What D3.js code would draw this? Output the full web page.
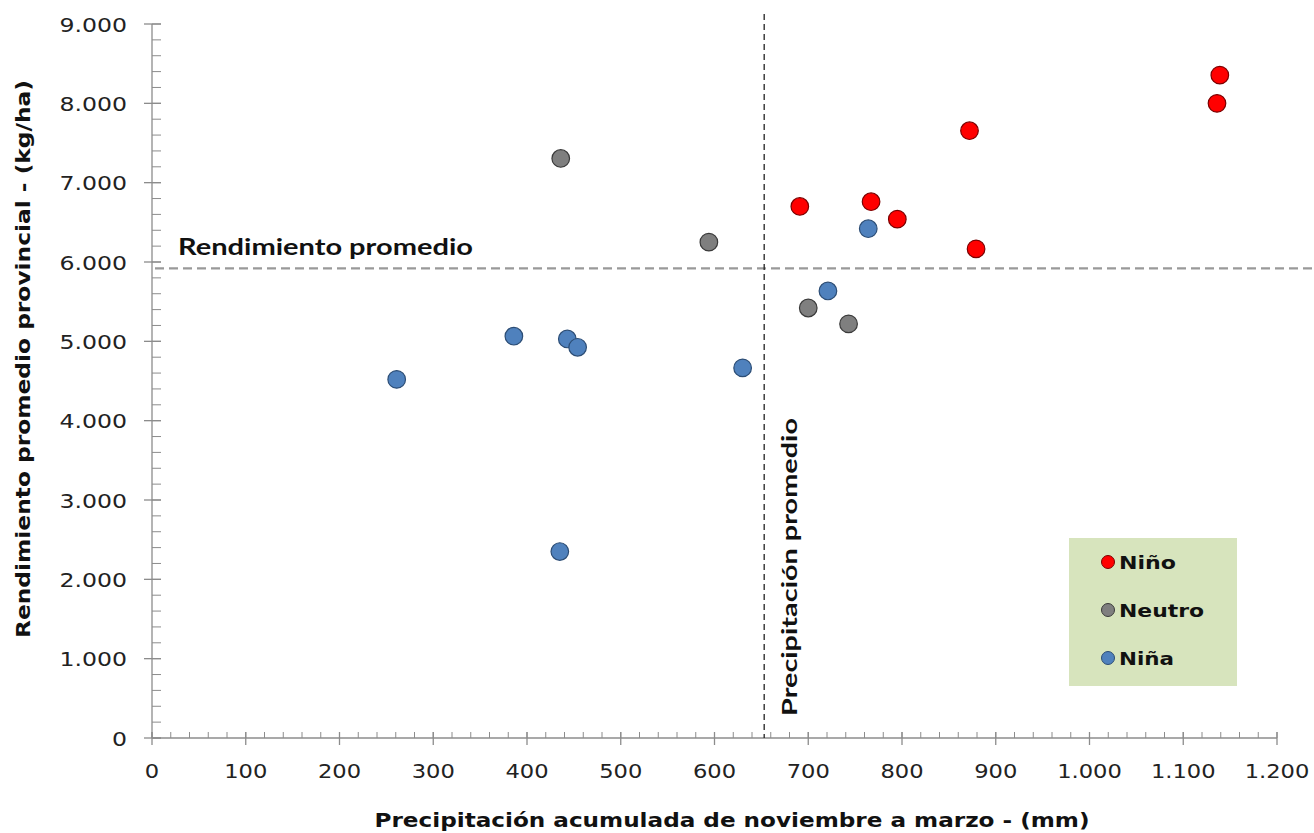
<!DOCTYPE html>
<html><head><meta charset="utf-8">
<script src="https://cdn.jsdelivr.net/npm/d3@7"></script>
<style>body{margin:0;background:#fff}svg{display:block}</style>
</head><body>
<svg id="c" width="1314" height="833"></svg>
<script>
const categories = ["Niño", "Neutro", "Niña"];
const colors = ["#ff0000", "#7f7f7f", "#4f81bd"];
const strokes = ["#7a0000", "#3a3a3a", "#2c4d75"];
const ninoX = [691, 767, 795, 872, 879, 1139, 1136];
const ninoY = [6700, 6760, 6540, 7655, 6165, 8355, 8000];
const neutroX = [436, 594, 700, 743];
const neutroY = [7305, 6250, 5420, 5220];
const ninaX = [261, 386, 443, 454, 435, 630, 721, 764];
const ninaY = [4520, 5065, 5030, 4925, 2350, 4665, 5635, 6420];
const xTicks = [0,100,200,300,400,500,600,700,800,900,1000,1100,1200];
const yTicks = [0,1000,2000,3000,4000,5000,6000,7000,8000,9000];
const avgYield = 5920;
const avgRain = 653;

const svg = d3.select("#c");
const x = d3.scaleLinear().domain([0,1200]).range([152,1277]);
const y = d3.scaleLinear().domain([0,9000]).range([738,24]);
const fmt = d => d3.format(",")(d).replace(/,/g,".");
const axisCol = "#8c8c8c";
const stretch = (sel, f) => sel.each(function(){ const l = this.getComputedTextLength(); d3.select(this).attr("textLength", l*f).attr("lengthAdjust","spacingAndGlyphs"); });

const gx = svg.append("g");
gx.append("line").attr("x1",x(0)).attr("x2",x(1200)).attr("y1",y(0)).attr("y2",y(0)).attr("stroke",axisCol).attr("stroke-width",1.3);
gx.selectAll(".mx").data(d3.range(0,1201,20)).join("line")
  .attr("x1",d=>x(d)).attr("x2",d=>x(d)).attr("y1",y(0)).attr("y2",y(0)-6).attr("stroke",axisCol);
gx.selectAll(".Mx").data(xTicks).join("line")
  .attr("x1",d=>x(d)).attr("x2",d=>x(d)).attr("y1",y(0)-6).attr("y2",y(0)+7).attr("stroke",axisCol).attr("stroke-width",1.3);
gx.selectAll("text").data(xTicks).join("text")
  .attr("x",d=>x(d)).attr("y",y(0)+40).attr("text-anchor","middle")
  .attr("font-family","DejaVu Sans").attr("font-size",20).attr("fill","#222").text(fmt)
  .call(stretch, 1.13);

const gy = svg.append("g");
gy.append("line").attr("x1",x(0)).attr("x2",x(0)).attr("y1",y(0)).attr("y2",y(9000)).attr("stroke",axisCol).attr("stroke-width",1.3);
gy.selectAll(".my").data(d3.range(0,9001,200)).join("line")
  .attr("x1",x(0)).attr("x2",x(0)+9).attr("y1",d=>y(d)).attr("y2",d=>y(d)).attr("stroke",axisCol);
gy.selectAll(".My").data(yTicks).join("line")
  .attr("x1",x(0)-8).attr("x2",x(0)+9).attr("y1",d=>y(d)).attr("y2",d=>y(d)).attr("stroke",axisCol).attr("stroke-width",1.3);
gy.selectAll("text").data(yTicks).join("text")
  .attr("x",127).attr("y",d=>y(d)+7.5).attr("text-anchor","end")
  .attr("font-family","DejaVu Sans").attr("font-size",20).attr("fill","#222").text(fmt)
  .call(stretch, 1.18);

// reference lines
svg.append("line").attr("x1",x(0)+3).attr("x2",1314).attr("y1",y(avgYield)).attr("y2",y(avgYield))
  .attr("stroke","#999").attr("stroke-width",2.2).attr("stroke-dasharray","9,5");
svg.append("line").attr("x1",x(avgRain)).attr("x2",x(avgRain)).attr("y1",14).attr("y2",y(0))
  .attr("stroke","#222").attr("stroke-width",1.3).attr("stroke-dasharray","6,4");

svg.append("text").attr("x",178).attr("y",255)
  .attr("font-family","Lato").attr("font-weight","bold").attr("font-size",23).attr("fill","#111")
  .attr("textLength",295).attr("lengthAdjust","spacingAndGlyphs").text("Rendimiento promedio");
svg.append("text").attr("transform",`translate(797,716) rotate(-90)`)
  .attr("font-family","Lato").attr("font-weight","bold").attr("font-size",21).attr("fill","#111")
  .attr("textLength",298).attr("lengthAdjust","spacingAndGlyphs").text("Precipitación promedio");

// points
const series = [[ninoX,ninoY],[neutroX,neutroY],[ninaX,ninaY]];
[1,2,0].forEach(i=>{
  const pts = series[i][0].map((v,j)=>[v,series[i][1][j]]);
  svg.append("g").selectAll("circle").data(pts).join("circle")
    .attr("cx",d=>x(d[0])).attr("cy",d=>y(d[1])).attr("r",8.8)
    .attr("fill",colors[i]).attr("stroke",strokes[i]).attr("stroke-width",1.2);
});

// legend
const lg = svg.append("g");
lg.append("rect").attr("x",1069).attr("y",538).attr("width",168).attr("height",148).attr("fill","#d7e4bd");
const lw = [57, 85, 55];
categories.forEach((c,i)=>{
  const cy = 562 + i*48;
  lg.append("circle").attr("cx",1108).attr("cy",cy).attr("r",6.5).attr("fill",colors[i]).attr("stroke",strokes[i]).attr("stroke-width",1);
  lg.append("text").attr("x",1119).attr("y",cy+7).attr("font-family","DejaVu Sans").attr("font-weight","bold")
    .attr("font-size",18).attr("fill","#111").attr("textLength",lw[i]).attr("lengthAdjust","spacingAndGlyphs").text(c);
});

// axis titles
svg.append("text").attr("x",732).attr("y",827).attr("text-anchor","middle")
  .attr("font-family","DejaVu Sans").attr("font-weight","bold").attr("font-size",20).attr("fill","#111")
  .attr("textLength",715).attr("lengthAdjust","spacingAndGlyphs")
  .text("Precipitación acumulada de noviembre a marzo - (mm)");
svg.append("text").attr("transform",`translate(30,359) rotate(-90)`).attr("text-anchor","middle")
  .attr("font-family","DejaVu Sans").attr("font-weight","bold").attr("font-size",20).attr("fill","#111")
  .attr("textLength",558).attr("lengthAdjust","spacingAndGlyphs")
  .text("Rendimiento promedio provincial - (kg/ha)");
</script>
</body></html>
